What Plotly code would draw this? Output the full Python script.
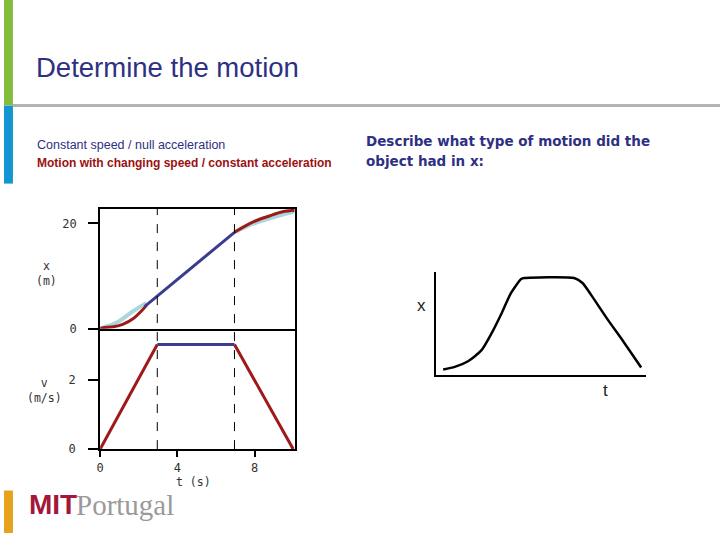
import plotly.graph_objects as go

W, H = 720, 540

# ---- data (left chart) ----
t_pos_smooth_a = [0, 0.17, 0.86, 1.72, 2.4]
x_pos_smooth_a = [0, 0.24, 1.18, 3.36, 4.9]
t_pos_accel = [0, 0.17, 0.69, 1.2, 1.72, 2.14, 2.4]
x_pos_accel = [0, 0.19, 0.37, 0.87, 1.93, 3.36, 4.43]
t_pos_const = [2.3, 6.96]
x_pos_const = [4.2, 18.3]
t_pos_smooth_b = [6.96, 7.5, 8.2, 9.0, 9.7, 10.08]
x_pos_smooth_b = [18.3, 19.3, 20.3, 21.2, 21.9, 22.3]
t_pos_decel = [6.96, 7.39, 8.07, 8.76, 9.45, 10.08]
x_pos_decel = [18.3, 19.25, 20.5, 21.4, 22.2, 22.5]

t_vel_accel = [0, 2.96]
v_vel_accel = [0, 3.03]
t_vel_const = [2.96, 6.96]
v_vel_const = [3.03, 3.03]
t_vel_decel = [6.96, 10.0]
v_vel_decel = [3.03, 0]

phase_boundaries = [2.96, 6.96]
t_ticks = [0, 4, 8]
x_ticks = [0, 20]
v_ticks = [0, 2]

# ---- data (right chart) ----
t_right = [0.36, 0.91, 1.54, 2.17, 2.64, 3.11, 3.58, 4.06, 4.21, 6.57, 6.97, 7.36, 8.15, 8.93, 9.75]
x_right = [0.55, 0.80, 1.35, 2.40, 4.01, 5.93, 8.01, 9.36, 9.45, 9.45, 8.97, 7.86, 5.45, 3.20, 0.74]

RED = "#9e1a1a"
NAVY = "#3b3b8f"
LIGHT = "#a9d7db"
TXT = "#2e3083"
MONO = "DejaVu Sans Mono"
TICKFONT = dict(family=MONO, size=12, color="#333333")


def px(x):
    return x / W


def py(y):
    return 1 - y / H


fig = go.Figure()

# top panel (position)
fig.add_trace(go.Scatter(x=t_pos_smooth_a, y=x_pos_smooth_a, xaxis="x2", yaxis="y",
                         mode="lines", line=dict(color=LIGHT, width=4, shape="spline")))
fig.add_trace(go.Scatter(x=t_pos_smooth_b, y=x_pos_smooth_b, xaxis="x2", yaxis="y",
                         mode="lines", line=dict(color=LIGHT, width=4, shape="spline")))
fig.add_trace(go.Scatter(x=t_pos_accel, y=x_pos_accel, xaxis="x2", yaxis="y",
                         mode="lines", line=dict(color=RED, width=3, shape="spline")))
fig.add_trace(go.Scatter(x=t_pos_decel, y=x_pos_decel, xaxis="x2", yaxis="y",
                         mode="lines", line=dict(color=RED, width=3, shape="spline")))
fig.add_trace(go.Scatter(x=t_pos_const, y=x_pos_const, xaxis="x2", yaxis="y",
                         mode="lines", line=dict(color=NAVY, width=3)))

# bottom panel (velocity)
fig.add_trace(go.Scatter(x=t_vel_accel, y=v_vel_accel, xaxis="x", yaxis="y2",
                         mode="lines", line=dict(color=RED, width=3)))
fig.add_trace(go.Scatter(x=t_vel_decel, y=v_vel_decel, xaxis="x", yaxis="y2",
                         mode="lines", line=dict(color=RED, width=3)))
fig.add_trace(go.Scatter(x=t_vel_const, y=v_vel_const, xaxis="x", yaxis="y2",
                         mode="lines", line=dict(color=NAVY, width=3)))

# right chart
fig.add_trace(go.Scatter(x=t_right, y=x_right, xaxis="x3", yaxis="y3",
                         mode="lines", line=dict(color="black", width=2.5, shape="spline", smoothing=0.6)))

# phase boundary dashed lines
for tb in phase_boundaries:
    fig.add_shape(type="line", xref="x", yref="paper", x0=tb, x1=tb,
                  y0=py(455), y1=py(211.7), line=dict(color="black", width=1, dash="dash"))

# slide decorations
fig.add_shape(type="rect", xref="paper", yref="paper", x0=0, x1=px(9), y0=py(107), y1=1,
              line=dict(width=0), fillcolor="#84bd3c")
fig.add_shape(type="rect", xref="paper", yref="paper", x0=0, x1=px(9), y0=py(186), y1=py(107),
              line=dict(width=0), fillcolor="#1496d2")
fig.add_shape(type="rect", xref="paper", yref="paper", x0=0, x1=px(9), y0=0, y1=py(497),
              line=dict(width=0), fillcolor="#e5a21a")
fig.add_shape(type="line", xref="paper", yref="paper", x0=px(9), x1=1, y0=py(107), y1=py(107),
              line=dict(color="#b3b3b3", width=3))

ann = []


def text(x, y, s, size, color, family="Liberation Sans", xanchor="left", yanchor="middle"):
    ann.append(dict(x=px(x), y=py(y), xref="paper", yref="paper", text=s, showarrow=False,
                    xanchor=xanchor, yanchor=yanchor, font=dict(family=family, size=size, color=color)))


text(30, 68, "Determine the motion", 27.5, TXT)
text(31, 147, "Constant speed / null acceleration", 12.5, TXT)
text(31, 165, "<b>Motion with changing speed / constant acceleration</b>", 12, "#9b1111")
text(362, 143, "<b>Describe what type of motion did the</b>", 13.5, TXT, family="DejaVu Sans")
text(362, 163, "<b>object had in x:</b>", 13.5, TXT, family="DejaVu Sans")

# left chart axis titles
text(43, 277, "x<br>(m)", 11.5, "#333333", family=MONO, xanchor="center")
text(41, 396, "v<br>(m/s)", 11.5, "#333333", family=MONO, xanchor="center")
text(191, 488, "t (s)", 11.5, "#333333", family=MONO, xanchor="center")

# right chart axis titles
text(420, 310, "x", 17, "#222222", xanchor="center")
text(605, 396, "t", 17, "#222222", xanchor="center")

# logo
text(23, 511, "<b>MIT</b>", 28, "#a3173a")
text(70, 512, "Portugal", 29, "#9a9a9a", family="Liberation Serif")

fig.update_layout(
    width=W, height=H, margin=dict(l=0, r=0, t=0, b=0),
    paper_bgcolor="white", plot_bgcolor="white", showlegend=False,
    annotations=ann,
    xaxis=dict(domain=[px(96.7), px(292.3)], range=[0, 10.08], anchor="y2",
               showline=True, linecolor="black", linewidth=2, mirror=False,
               showgrid=False, zeroline=False, tickvals=t_ticks, ticks="outside",
               ticklen=6, tickwidth=2, tickcolor="black", tickfont=TICKFONT, ticklabelstandoff=0),
    xaxis2=dict(domain=[px(96.7), px(292.3)], range=[0, 10.08], anchor="y", matches="x",
                showline=True, linecolor="black", linewidth=2, mirror=True,
                showgrid=False, zeroline=False, showticklabels=False, ticks=""),
    yaxis=dict(domain=[py(333), py(211.7)], range=[0, 22.74], anchor="x2",
               showline=True, linecolor="black", linewidth=2, mirror=True,
               showgrid=False, zeroline=False, tickvals=x_ticks, ticks="outside",
               ticklen=10, tickwidth=1.5, tickcolor="black", tickfont=TICKFONT, ticklabelstandoff=9),
    yaxis2=dict(domain=[py(455), py(333)], range=[0, 3.486], anchor="x",
                showline=True, linecolor="black", linewidth=2, mirror=True,
                showgrid=False, zeroline=False, tickvals=v_ticks, ticks="outside",
                ticklen=10, tickwidth=1.5, tickcolor="black", tickfont=TICKFONT, ticklabelstandoff=10),
    xaxis3=dict(domain=[px(434), px(646)], range=[0, 10], anchor="y3",
                showline=True, linecolor="black", linewidth=1.5, showgrid=False,
                zeroline=False, showticklabels=False, ticks=""),
    yaxis3=dict(domain=[py(380), py(276)], range=[0, 10], anchor="x3",
                showline=True, linecolor="black", linewidth=1.5, showgrid=False,
                zeroline=False, showticklabels=False, ticks=""),
)

fig.write_html("out.html", config={"displayModeBar": False},
               post_script="document.body.style.margin='0';document.body.style.overflow='hidden';")
